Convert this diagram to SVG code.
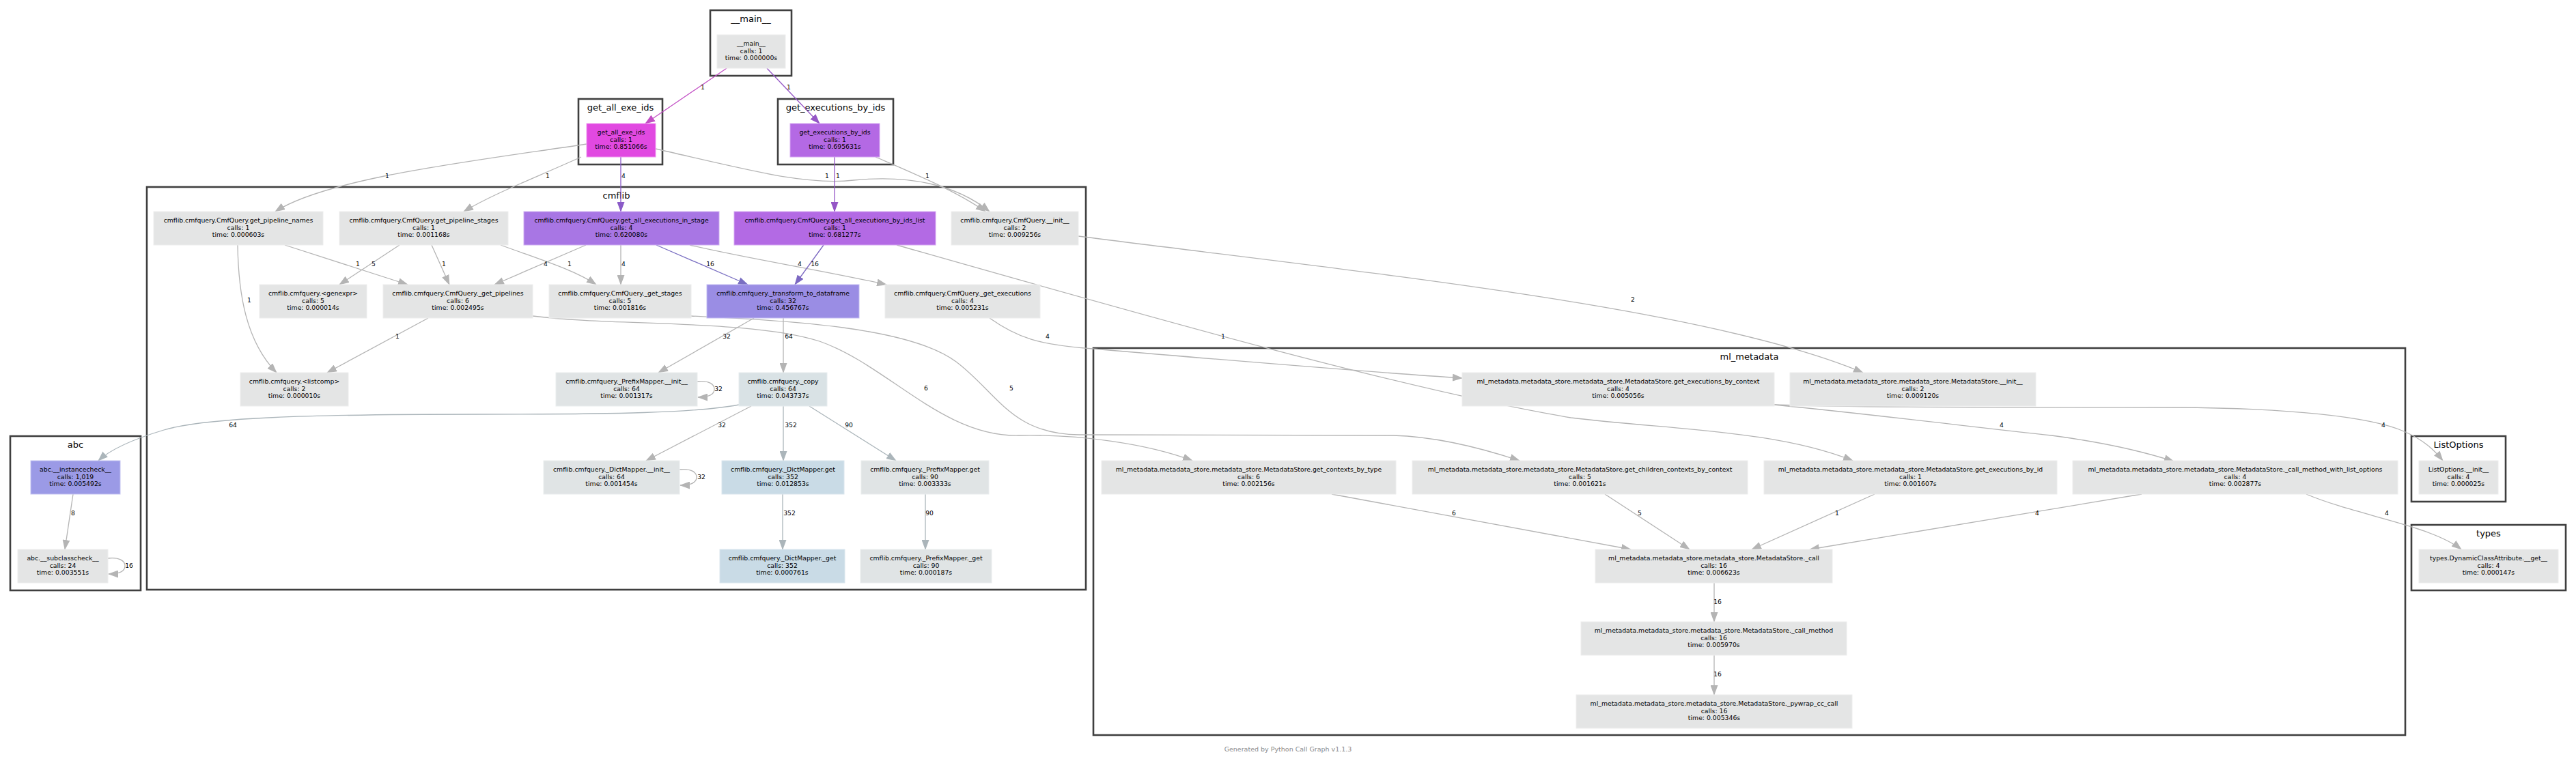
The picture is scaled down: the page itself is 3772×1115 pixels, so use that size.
<svg xmlns="http://www.w3.org/2000/svg" width="3772" height="1115" viewBox="0 0 3772 1115">
<style>
.cl{fill:#ffffff;stroke:#3f3f3f;stroke-width:2.6}
.clt{font-family:"DejaVu Sans",Verdana,sans-serif;font-size:13px;text-anchor:middle;fill:#000}
.nt{font-family:"DejaVu Sans",Verdana,sans-serif;font-size:9.3px;text-anchor:middle;fill:#000}
.el{font-family:"DejaVu Sans",Verdana,sans-serif;font-size:9.2px;text-anchor:middle;fill:#000}
.ft{font-family:"DejaVu Sans",Verdana,sans-serif;font-size:9.5px;text-anchor:middle;fill:#8a8a8a}
.e{fill:none;stroke:#b4b4b4;stroke-width:1.3;marker-end:url(#ag)}
.eb{fill:none;stroke:#abb5ba;stroke-width:1.3;marker-end:url(#ab)}
rect.g0,rect.g1,rect.gc,rect.gd{stroke-width:1}
.g0{fill:#e4e5e5;stroke:#ededed}.g1{fill:#e0e4e5;stroke:#eaedee}.gc{fill:#d9e2e5;stroke:#e6ecee}.gd{fill:#c9dbe6;stroke:#dae6ee}
.m1{fill:#e149e1;stroke:#f09af0;stroke-width:1}.m2{fill:#b469e4;stroke:#d6a8f2;stroke-width:1}.m3{fill:#a876e4;stroke:#cfb0f2;stroke-width:1}.m4{fill:#b36ae4;stroke:#d6a8f2;stroke-width:1}.m5{fill:#9a8de4;stroke:#c4bef2;stroke-width:1}.m6{fill:#9b9ae6;stroke:#c4c3f2;stroke-width:1}
</style>
<defs>
<marker id="ag" markerUnits="userSpaceOnUse" markerWidth="15" markerHeight="11" viewBox="0 0 15 11" refX="14" refY="5.5" orient="auto"><path d="M0,0 L15,5.5 L0,11 z" fill="#b4b4b4"/></marker>
<marker id="ab" markerUnits="userSpaceOnUse" markerWidth="15" markerHeight="11" viewBox="0 0 15 11" refX="14" refY="5.5" orient="auto"><path d="M0,0 L15,5.5 L0,11 z" fill="#abb5ba"/></marker>
<marker id="p1" markerUnits="userSpaceOnUse" markerWidth="15" markerHeight="11" viewBox="0 0 15 11" refX="14" refY="5.5" orient="auto"><path d="M0,0 L15,5.5 L0,11 z" fill="#c24ec4"/></marker>
<marker id="p2" markerUnits="userSpaceOnUse" markerWidth="15" markerHeight="11" viewBox="0 0 15 11" refX="14" refY="5.5" orient="auto"><path d="M0,0 L15,5.5 L0,11 z" fill="#9556c6"/></marker>
<marker id="p3" markerUnits="userSpaceOnUse" markerWidth="15" markerHeight="11" viewBox="0 0 15 11" refX="14" refY="5.5" orient="auto"><path d="M0,0 L15,5.5 L0,11 z" fill="#8b5bc8"/></marker>
<marker id="p4" markerUnits="userSpaceOnUse" markerWidth="15" markerHeight="11" viewBox="0 0 15 11" refX="14" refY="5.5" orient="auto"><path d="M0,0 L15,5.5 L0,11 z" fill="#7a6fc2"/></marker>
<marker id="p5" markerUnits="userSpaceOnUse" markerWidth="15" markerHeight="11" viewBox="0 0 15 11" refX="14" refY="5.5" orient="auto"><path d="M0,0 L15,5.5 L0,11 z" fill="#7c68c2"/></marker>
</defs>
<rect width="3772" height="1115" fill="#ffffff"/>

<g id="clusters">
<g id="cluster-main"><rect class="cl" x="1040" y="15" width="119" height="96"/><text class="clt" x="1099.5" y="32">__main__</text></g>
<g id="cluster-get_all_exe_ids"><rect class="cl" x="847" y="145" width="123" height="96"/><text class="clt" x="908.5" y="162">get_all_exe_ids</text></g>
<g id="cluster-get_executions_by_ids"><rect class="cl" x="1139" y="145" width="169" height="96"/><text class="clt" x="1223.5" y="162">get_executions_by_ids</text></g>
<g id="cluster-cmflib"><rect class="cl" x="215" y="274" width="1375" height="590"/><text class="clt" x="902.5" y="291">cmflib</text></g>
<g id="cluster-abc"><rect class="cl" x="15" y="639" width="191" height="226"/><text class="clt" x="110.5" y="656">abc</text></g>
<g id="cluster-ml_metadata"><rect class="cl" x="1601" y="510" width="1921" height="567"/><text class="clt" x="2561.5" y="527">ml_metadata</text></g>
<g id="cluster-ListOptions"><rect class="cl" x="3531" y="639" width="138" height="96"/><text class="clt" x="3600" y="656">ListOptions</text></g>
<g id="cluster-types"><rect class="cl" x="3531" y="769" width="226" height="96"/><text class="clt" x="3644" y="786">types</text></g>
</g>

<g id="connectors">
<path d="M1064,100 L945,181" style="fill:none;stroke:#c24ec4;stroke-width:1.3;marker-end:url(#p1)"/>
<text class="el" x="1029" y="131">1</text>
<path d="M1123,100 L1200,181" style="fill:none;stroke:#9556c6;stroke-width:1.3;marker-end:url(#p2)"/>
<text class="el" x="1155" y="131">1</text>
<path class="e" d="M859,211 C700,235 480,260 403,310"/>
<text class="el" x="567" y="261">1</text>
<path class="e" d="M851,230 C780,262 720,285 679,310"/>
<text class="el" x="802" y="261">1</text>
<path d="M909,230 L909,310" style="fill:none;stroke:#8b5bc8;stroke-width:1.3;marker-end:url(#p3)"/>
<text class="el" x="913" y="261">4</text>
<path class="e" d="M960,218 C1100,250 1180,272 1250,264 C1330,256 1400,270 1449,310"/>
<text class="el" x="1211" y="261">1</text>
<path d="M1222,230 L1222,310" style="fill:none;stroke:#9556c6;stroke-width:1.3;marker-end:url(#p2)"/>
<text class="el" x="1227" y="261">1</text>
<path class="e" d="M1282,230 C1340,255 1400,280 1443,310"/>
<text class="el" x="1358" y="261">1</text>

<path class="e" d="M417,359 L597,417"/>
<text class="el" x="524" y="390">1</text>
<path class="e" d="M348,359 C349,430 360,500 405,546"/>
<text class="el" x="365" y="443">1</text>
<path class="e" d="M585,359 L497,417"/>
<text class="el" x="547" y="390">5</text>
<path class="e" d="M632,359 L658,417"/>
<text class="el" x="650" y="390">1</text>
<path class="e" d="M733,359 C790,380 840,395 873,417"/>
<text class="el" x="834" y="390">1</text>
<path class="e" d="M858,359 L724,417"/>
<text class="el" x="799" y="390">4</text>
<path class="e" d="M909,359 L909,417"/>
<text class="el" x="913" y="390">4</text>
<path d="M961,359 L1095,417" style="fill:none;stroke:#7a6fc2;stroke-width:1.3;marker-end:url(#p4)"/>
<text class="el" x="1040" y="390">16</text>
<path class="e" d="M1010,359 C1100,380 1200,395 1298,417"/>
<text class="el" x="1171" y="390">4</text>
<path d="M1206,359 L1164,417" style="fill:none;stroke:#7c68c2;stroke-width:1.3;marker-end:url(#p5)"/>
<text class="el" x="1193" y="390">16</text>
<path class="e" d="M1313,359 C1650,455 2050,570 2300,612 C2450,630 2600,630 2713,675"/>
<text class="el" x="1791" y="496">1</text>
<path class="e" d="M1579,346 C2000,400 2500,450 2728,546"/>
<text class="el" x="2391" y="442">2</text>
<path class="e" d="M1449,466 C1490,495 1520,505 1600,511 C1800,528 2000,545 2141,554"/>
<text class="el" x="1534" y="496">4</text>
<path class="e" d="M780,463 C900,478 1100,468 1200,500 C1300,535 1380,640 1491,638 C1580,636 1680,650 1746,675"/>
<text class="el" x="1356" y="572">6</text>
<path class="e" d="M1012,463 C1150,470 1330,478 1400,530 C1460,575 1480,636 1580,637 L2040,638 C2110,640 2180,660 2225,675"/>
<text class="el" x="1481" y="572">5</text>
<path class="e" d="M627,466 L479,546"/>
<text class="el" x="582" y="496">1</text>
<path class="e" d="M1104,466 L964,546"/>
<text class="el" x="1064" y="496">32</text>
<path class="e" d="M1147,466 L1147,546"/>
<text class="el" x="1155" y="496">64</text>
<path class="eb" d="M1082,593 C1020,605 900,607 700,607 C450,607 300,612 240,630 C190,645 160,660 144,675"/>
<text class="el" x="341" y="626">64</text>
<path class="e" d="M1100,595 L946,675"/>
<text class="el" x="1057" y="626">32</text>
<path class="eb" d="M1147,595 L1147,675"/>
<text class="el" x="1158" y="626">352</text>
<path class="eb" d="M1185,595 L1312,675"/>
<text class="el" x="1243" y="626">90</text>
<path class="eb" d="M1146,724 L1146,805"/>
<text class="el" x="1156" y="755">352</text>
<path class="eb" d="M1355,724 L1355,805"/>
<text class="el" x="1361" y="755">90</text>
<path class="e" d="M1021,559 C1038,557 1046,563 1046,570 C1046,577 1040,582 1022,582"/>
<text class="el" x="1052" y="573">32</text>
<path class="e" d="M995,688 C1012,686 1020,692 1020,699 C1020,706 1014,711 996,711"/>
<text class="el" x="1027" y="702">32</text>
<path class="e" d="M158,818 C175,816 183,822 183,829 C183,836 177,841 159,841"/>
<text class="el" x="189" y="832">16</text>
<path class="e" d="M107,724 L95,805"/>
<text class="el" x="107" y="755">8</text>

<path class="e" d="M2598,593 C2750,608 2900,627 3004,638 C3080,648 3140,662 3183,676"/>
<text class="el" x="2931" y="626">4</text>
<path class="e" d="M2598,593 C2750,598 3000,597 3186,597 C3350,598 3470,610 3520,632 C3550,645 3565,660 3577,675"/>
<text class="el" x="3490" y="626">4</text>
<path class="e" d="M1950,724 L2388,805"/>
<text class="el" x="2129" y="755">6</text>
<path class="e" d="M2350,724 L2474,805"/>
<text class="el" x="2401" y="755">5</text>
<path class="e" d="M2745,724 L2565,805"/>
<text class="el" x="2690" y="755">1</text>
<path class="e" d="M3136,724 L2650,805"/>
<text class="el" x="2983" y="755">4</text>
<path class="e" d="M3377,724 C3450,755 3560,770 3604,805"/>
<text class="el" x="3495" y="755">4</text>
<path class="e" d="M2510,854 L2510,911"/>
<text class="el" x="2515" y="885">16</text>
<path class="e" d="M2510,960 L2510,1018"/>
<text class="el" x="2515" y="991">16</text>
</g>

<g id="node-main"><rect class="g0" x="1050" y="51" width="100" height="49"/><text class="nt"><tspan x="1100" y="67.1">__main__</tspan><tspan x="1100" y="77.6">calls: 1</tspan><tspan x="1100" y="88.1">time: 0.000000s</tspan></text></g>
<g id="node-get_all_exe_ids"><rect class="m1" x="859" y="181" width="101" height="49"/><text class="nt"><tspan x="909.5" y="197.1">get_all_exe_ids</tspan><tspan x="909.5" y="207.6">calls: 1</tspan><tspan x="909.5" y="218.1">time: 0.851066s</tspan></text></g>
<g id="node-get_executions_by_ids"><rect class="m2" x="1157" y="181" width="131" height="49"/><text class="nt"><tspan x="1222.5" y="197.1">get_executions_by_ids</tspan><tspan x="1222.5" y="207.6">calls: 1</tspan><tspan x="1222.5" y="218.1">time: 0.695631s</tspan></text></g>

<g id="node-get_pipeline_names"><rect class="g0" x="225" y="310" width="248" height="49"/><text class="nt"><tspan x="349" y="326.1">cmflib.cmfquery.CmfQuery.get_pipeline_names</tspan><tspan x="349" y="336.6">calls: 1</tspan><tspan x="349" y="347.1">time: 0.000603s</tspan></text></g>
<g id="node-get_pipeline_stages"><rect class="g0" x="497" y="310" width="247" height="49"/><text class="nt"><tspan x="620.5" y="326.1">cmflib.cmfquery.CmfQuery.get_pipeline_stages</tspan><tspan x="620.5" y="336.6">calls: 1</tspan><tspan x="620.5" y="347.1">time: 0.001168s</tspan></text></g>
<g id="node-get_all_executions_in_stage"><rect class="m3" x="767" y="310" width="286" height="49"/><text class="nt"><tspan x="910" y="326.1">cmflib.cmfquery.CmfQuery.get_all_executions_in_stage</tspan><tspan x="910" y="336.6">calls: 4</tspan><tspan x="910" y="347.1">time: 0.620080s</tspan></text></g>
<g id="node-get_all_executions_by_ids_list"><rect class="m4" x="1075" y="310" width="295" height="49"/><text class="nt"><tspan x="1222.5" y="326.1">cmflib.cmfquery.CmfQuery.get_all_executions_by_ids_list</tspan><tspan x="1222.5" y="336.6">calls: 1</tspan><tspan x="1222.5" y="347.1">time: 0.681277s</tspan></text></g>
<g id="node-CmfQuery_init"><rect class="g0" x="1393" y="310" width="186" height="49"/><text class="nt"><tspan x="1486" y="326.1">cmflib.cmfquery.CmfQuery.__init__</tspan><tspan x="1486" y="336.6">calls: 2</tspan><tspan x="1486" y="347.1">time: 0.009256s</tspan></text></g>

<g id="node-genexpr"><rect class="g0" x="380" y="417" width="157" height="49"/><text class="nt"><tspan x="458.5" y="433.1">cmflib.cmfquery.&lt;genexpr&gt;</tspan><tspan x="458.5" y="443.6">calls: 5</tspan><tspan x="458.5" y="454.1">time: 0.000014s</tspan></text></g>
<g id="node-_get_pipelines"><rect class="g0" x="561" y="417" width="219" height="49"/><text class="nt"><tspan x="670.5" y="433.1">cmflib.cmfquery.CmfQuery._get_pipelines</tspan><tspan x="670.5" y="443.6">calls: 6</tspan><tspan x="670.5" y="454.1">time: 0.002495s</tspan></text></g>
<g id="node-_get_stages"><rect class="g0" x="804" y="417" width="208" height="49"/><text class="nt"><tspan x="908" y="433.1">cmflib.cmfquery.CmfQuery._get_stages</tspan><tspan x="908" y="443.6">calls: 5</tspan><tspan x="908" y="454.1">time: 0.001816s</tspan></text></g>
<g id="node-_transform_to_dataframe"><rect class="m5" x="1035" y="417" width="223" height="49"/><text class="nt"><tspan x="1146.5" y="433.1">cmflib.cmfquery._transform_to_dataframe</tspan><tspan x="1146.5" y="443.6">calls: 32</tspan><tspan x="1146.5" y="454.1">time: 0.456767s</tspan></text></g>
<g id="node-_get_executions"><rect class="g0" x="1296" y="417" width="227" height="49"/><text class="nt"><tspan x="1409.5" y="433.1">cmflib.cmfquery.CmfQuery._get_executions</tspan><tspan x="1409.5" y="443.6">calls: 4</tspan><tspan x="1409.5" y="454.1">time: 0.005231s</tspan></text></g>

<g id="node-listcomp"><rect class="g0" x="352" y="546" width="158" height="49"/><text class="nt"><tspan x="431" y="562.1">cmflib.cmfquery.&lt;listcomp&gt;</tspan><tspan x="431" y="572.6">calls: 2</tspan><tspan x="431" y="583.1">time: 0.000010s</tspan></text></g>
<g id="node-PrefixMapper_init"><rect class="g1" x="814" y="546" width="207" height="49"/><text class="nt"><tspan x="917.5" y="562.1">cmflib.cmfquery._PrefixMapper.__init__</tspan><tspan x="917.5" y="572.6">calls: 64</tspan><tspan x="917.5" y="583.1">time: 0.001317s</tspan></text></g>
<g id="node-_copy"><rect class="gc" x="1082" y="546" width="129" height="49"/><text class="nt"><tspan x="1146.5" y="562.1">cmflib.cmfquery._copy</tspan><tspan x="1146.5" y="572.6">calls: 64</tspan><tspan x="1146.5" y="583.1">time: 0.043737s</tspan></text></g>

<g id="node-DictMapper_init"><rect class="g1" x="796" y="675" width="199" height="49"/><text class="nt"><tspan x="895.5" y="691.1">cmflib.cmfquery._DictMapper.__init__</tspan><tspan x="895.5" y="701.6">calls: 64</tspan><tspan x="895.5" y="712.1">time: 0.001454s</tspan></text></g>
<g id="node-DictMapper_get"><rect class="gd" x="1057" y="675" width="179" height="49"/><text class="nt"><tspan x="1146.5" y="691.1">cmflib.cmfquery._DictMapper.get</tspan><tspan x="1146.5" y="701.6">calls: 352</tspan><tspan x="1146.5" y="712.1">time: 0.012853s</tspan></text></g>
<g id="node-PrefixMapper_get"><rect class="g1" x="1261" y="675" width="187" height="49"/><text class="nt"><tspan x="1354.5" y="691.1">cmflib.cmfquery._PrefixMapper.get</tspan><tspan x="1354.5" y="701.6">calls: 90</tspan><tspan x="1354.5" y="712.1">time: 0.003333s</tspan></text></g>
<g id="node-DictMapper__get"><rect class="gd" x="1054" y="805" width="183" height="49"/><text class="nt"><tspan x="1145.5" y="821.1">cmflib.cmfquery._DictMapper._get</tspan><tspan x="1145.5" y="831.6">calls: 352</tspan><tspan x="1145.5" y="842.1">time: 0.000761s</tspan></text></g>
<g id="node-PrefixMapper__get"><rect class="g1" x="1260" y="805" width="192" height="49"/><text class="nt"><tspan x="1356" y="821.1">cmflib.cmfquery._PrefixMapper._get</tspan><tspan x="1356" y="831.6">calls: 90</tspan><tspan x="1356" y="842.1">time: 0.000187s</tspan></text></g>

<g id="node-abc_instancecheck"><rect class="m6" x="45" y="675" width="131" height="49"/><text class="nt"><tspan x="110.5" y="691.1">abc.__instancecheck__</tspan><tspan x="110.5" y="701.6">calls: 1,019</tspan><tspan x="110.5" y="712.1">time: 0.005492s</tspan></text></g>
<g id="node-abc_subclasscheck"><rect class="g0" x="26" y="805" width="132" height="49"/><text class="nt"><tspan x="92" y="821.1">abc.__subclasscheck__</tspan><tspan x="92" y="831.6">calls: 24</tspan><tspan x="92" y="842.1">time: 0.003551s</tspan></text></g>

<g id="node-get_executions_by_context"><rect class="g0" x="2141" y="546" width="457" height="49"/><text class="nt"><tspan x="2369.5" y="562.1">ml_metadata.metadata_store.metadata_store.MetadataStore.get_executions_by_context</tspan><tspan x="2369.5" y="572.6">calls: 4</tspan><tspan x="2369.5" y="583.1">time: 0.005056s</tspan></text></g>
<g id="node-MetadataStore_init"><rect class="g0" x="2621" y="546" width="360" height="49"/><text class="nt"><tspan x="2801" y="562.1">ml_metadata.metadata_store.metadata_store.MetadataStore.__init__</tspan><tspan x="2801" y="572.6">calls: 2</tspan><tspan x="2801" y="583.1">time: 0.009120s</tspan></text></g>
<g id="node-get_contexts_by_type"><rect class="g0" x="1613" y="675" width="431" height="49"/><text class="nt"><tspan x="1828.5" y="691.1">ml_metadata.metadata_store.metadata_store.MetadataStore.get_contexts_by_type</tspan><tspan x="1828.5" y="701.6">calls: 6</tspan><tspan x="1828.5" y="712.1">time: 0.002156s</tspan></text></g>
<g id="node-get_children_contexts_by_context"><rect class="g0" x="2068" y="675" width="491" height="49"/><text class="nt"><tspan x="2313.5" y="691.1">ml_metadata.metadata_store.metadata_store.MetadataStore.get_children_contexts_by_context</tspan><tspan x="2313.5" y="701.6">calls: 5</tspan><tspan x="2313.5" y="712.1">time: 0.001621s</tspan></text></g>
<g id="node-get_executions_by_id"><rect class="g0" x="2583" y="675" width="429" height="49"/><text class="nt"><tspan x="2797.5" y="691.1">ml_metadata.metadata_store.metadata_store.MetadataStore.get_executions_by_id</tspan><tspan x="2797.5" y="701.6">calls: 1</tspan><tspan x="2797.5" y="712.1">time: 0.001607s</tspan></text></g>
<g id="node-_call_method_with_list_options"><rect class="g0" x="3035" y="675" width="476" height="49"/><text class="nt"><tspan x="3273" y="691.1">ml_metadata.metadata_store.metadata_store.MetadataStore._call_method_with_list_options</tspan><tspan x="3273" y="701.6">calls: 4</tspan><tspan x="3273" y="712.1">time: 0.002877s</tspan></text></g>
<g id="node-_call"><rect class="g0" x="2336" y="805" width="347" height="49"/><text class="nt"><tspan x="2509.5" y="821.1">ml_metadata.metadata_store.metadata_store.MetadataStore._call</tspan><tspan x="2509.5" y="831.6">calls: 16</tspan><tspan x="2509.5" y="842.1">time: 0.006623s</tspan></text></g>
<g id="node-_call_method"><rect class="g0" x="2315" y="911" width="389" height="49"/><text class="nt"><tspan x="2509.5" y="927.1">ml_metadata.metadata_store.metadata_store.MetadataStore._call_method</tspan><tspan x="2509.5" y="937.6">calls: 16</tspan><tspan x="2509.5" y="948.1">time: 0.005970s</tspan></text></g>
<g id="node-_pywrap_cc_call"><rect class="g0" x="2308" y="1018" width="404" height="49"/><text class="nt"><tspan x="2510" y="1034.1">ml_metadata.metadata_store.metadata_store.MetadataStore._pywrap_cc_call</tspan><tspan x="2510" y="1044.6">calls: 16</tspan><tspan x="2510" y="1055.1">time: 0.005346s</tspan></text></g>

<g id="node-ListOptions_init"><rect class="g0" x="3542" y="675" width="116" height="49"/><text class="nt"><tspan x="3600" y="691.1">ListOptions.__init__</tspan><tspan x="3600" y="701.6">calls: 4</tspan><tspan x="3600" y="712.1">time: 0.000025s</tspan></text></g>
<g id="node-types_get"><rect class="g0" x="3542" y="805" width="204" height="49"/><text class="nt"><tspan x="3644" y="821.1">types.DynamicClassAttribute.__get__</tspan><tspan x="3644" y="831.6">calls: 4</tspan><tspan x="3644" y="842.1">time: 0.000147s</tspan></text></g>

<text class="ft" x="1886" y="1101">Generated by Python Call Graph v1.1.3</text>
</svg>
